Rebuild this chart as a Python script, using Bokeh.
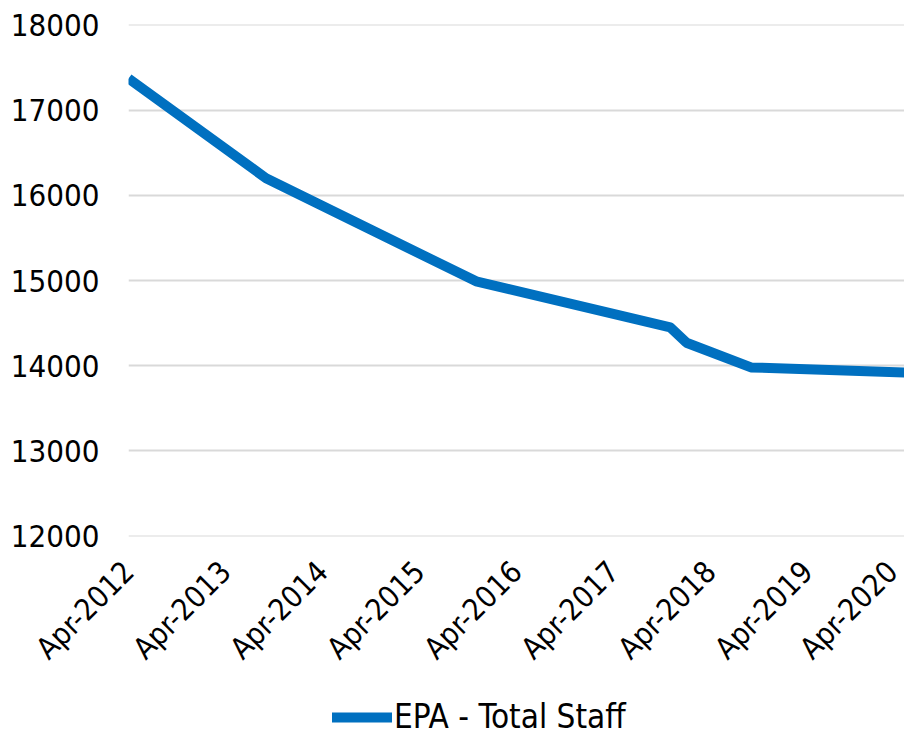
import pandas as pd
from bokeh.plotting import figure
from bokeh.layouts import column
from bokeh.models import (ColumnDataSource, FixedTicker, DatetimeTickFormatter, Legend,
                          LegendItem, Range1d)
from bokeh.embed import file_html
from bokeh.resources import INLINE
import math

# ---- data ----
dates = ["2012-04-01", "2013-09-01", "2015-11-01", "2017-11-01", "2018-01-01", "2018-09-01", "2020-04-01"]
staff = [17370, 16200, 14990, 14450, 14270, 13980, 13920]
tick_dates = ["2012-04-01", "2013-04-01", "2014-04-01", "2015-04-01", "2016-04-01",
              "2017-04-01", "2018-04-01", "2019-04-01", "2020-04-01"]
y_ticks = [12000, 13000, 14000, 15000, 16000, 17000, 18000]
series_name = "EPA - Total Staff"

FONT = "DejaVu Sans Condensed"
LINE_COLOR = "#0070C0"

x = pd.to_datetime(dates)
src = ColumnDataSource(dict(x=x, y=staff))
ticks_ms = [pd.Timestamp(d).value / 1e6 for d in tick_dates]

# ---- main chart ----
p1 = figure(width=904, height=690, output_backend="svg", toolbar_location=None,
            x_axis_type="datetime",
            x_range=Range1d(ticks_ms[0], ticks_ms[-1]),
            y_range=Range1d(11996, 18004),
            min_border_left=128, min_border_right=0, min_border_top=24,
            min_border_bottom=154)
p1.outline_line_color = None
p1.background_fill_color = "white"
p1.border_fill_color = "white"

p1.line("x", "y", source=src, line_color=LINE_COLOR, line_width=10, line_join="round")

p1.xaxis.ticker = FixedTicker(ticks=ticks_ms)
p1.xaxis.formatter = DatetimeTickFormatter(days="%b-%Y", months="%b-%Y", years="%b-%Y")
p1.xaxis.major_label_orientation = math.pi / 4
p1.xaxis.axis_line_color = None
p1.xaxis.major_tick_line_color = None
p1.xaxis.minor_tick_line_color = None
p1.xaxis.major_tick_out = 0
p1.xaxis.major_tick_in = 0
p1.xaxis.major_label_text_font = FONT
p1.xaxis.major_label_text_font_size = "30px"
p1.xaxis.major_label_text_color = "black"
p1.xaxis.major_label_standoff = 30

p1.yaxis.ticker = FixedTicker(ticks=y_ticks)
p1.yaxis.axis_line_color = None
p1.yaxis.major_tick_line_color = None
p1.yaxis.minor_tick_line_color = None
p1.yaxis.major_tick_out = 0
p1.yaxis.major_tick_in = 0
p1.yaxis.major_label_text_font = FONT
p1.yaxis.major_label_text_font_size = "31px"
p1.yaxis.major_label_text_color = "black"
p1.yaxis.major_label_standoff = 29

p1.xgrid.grid_line_color = None
p1.ygrid.grid_line_color = "#d9d9d9"
p1.ygrid.grid_line_width = 2

# ---- legend strip below ----
p2 = figure(width=904, height=47, output_backend="svg", toolbar_location=None,
            x_axis_type="datetime",
            x_range=Range1d(ticks_ms[0], ticks_ms[-1]),
            y_range=Range1d(0, 1),
            x_axis_location=None, y_axis_location=None,
            min_border_left=0, min_border_right=0, min_border_top=0, min_border_bottom=0)
p2.outline_line_color = None
p2.grid.grid_line_color = None
p2.background_fill_color = "white"
p2.border_fill_color = "white"
r2 = p2.line("x", "y", source=src, line_color=LINE_COLOR, line_width=10, line_cap="round")

legend = Legend(items=[LegendItem(label=series_name, renderers=[r2])],
                location=(204, 1), orientation="horizontal",
                label_text_font=FONT, label_text_font_size="33px",
                label_text_color="black",
                glyph_width=60, glyph_height=12, label_standoff=2,
                border_line_color=None, background_fill_alpha=0,
                padding=0, margin=0)
p2.add_layout(legend, "center")

p = column(p1, p2, spacing=0)

open("out.html", "w").write(file_html(p, INLINE))
